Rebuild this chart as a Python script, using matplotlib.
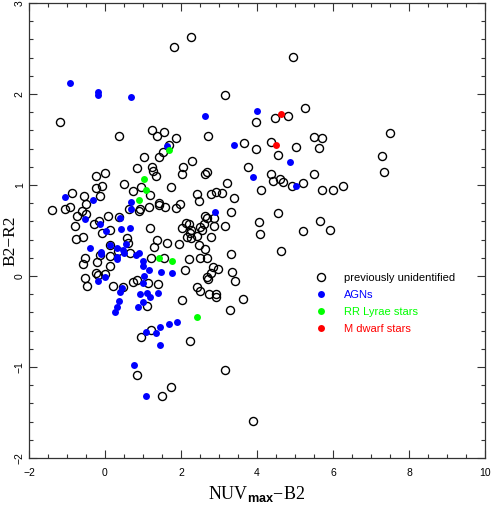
import matplotlib
matplotlib.use("Agg")
import matplotlib.pyplot as plt
from matplotlib.ticker import MultipleLocator

# previously unidentified (open circles)
unid_x = [1.82, 2.26, 4.95, 3.16, 5.26, 4.47, 4.82, 3.97, 3.66, 3.97, 4.37, 5.03, 5.50, 5.71, 5.63,
          7.50, 7.29, 7.34, 4.55, 3.76, 4.37, 4.42, 4.61, 4.68, 4.92, 5.21, 5.50, 4.10, 5.71, 6.00,
          6.26, 4.55, 4.05, 4.08, 5.66, 5.21, 5.92, 4.63, 3.63, 3.89, -1.18, 0.37, 1.24, 1.37, 1.55,
          1.87, 1.68, 1.53, 1.42, 1.03, 1.24, 1.26, 1.34, 0.84, 2.05, 2.03, 2.29, 2.71, 2.63, 2.68,
          3.21, 0.00, -0.24, 0.50, -0.24, -0.08, -0.87, -0.55, -0.13, -1.39, -1.05, -0.92, -0.50, -0.61, -0.74,
          -0.50, -0.79, -0.16, -0.29, -0.08, 0.08, 0.13, 0.37, 0.58, -0.76, -0.58, 0.13, 0.63, 0.74, 0.92,
          0.89, 1.16, 1.18, 0.95, 1.42, 1.42, 1.58, 1.74, 1.87, 1.97, 1.18, 1.37, 1.29, 1.63, 1.95,
          2.03, 2.13, 2.21, 2.26, 2.16, 2.26, 2.50, 2.55, 2.61, 2.63, 2.68, 2.87, 2.87, 2.79, 3.16,
          3.32, 3.39, 2.42, 2.47, 2.79, 2.92, 3.08, 2.42, 2.47, -0.53, -0.58, -0.21, -0.13, 0.13, 0.13,
          -0.24, -0.18, 0.00, -0.53, -0.47, 0.61, 0.66, 0.74, 0.84, 1.39, 1.55, 2.10, 2.21, 2.50, 2.63,
          2.68, 2.84, 2.97, 2.79, 2.68, 2.71, 3.32, 3.34, 3.42, 2.42, 2.50, 2.74, 2.92, 2.92, 2.03,
          3.29, 0.47, 0.21, 1.10, 1.21, 0.95, 2.24, 0.84, 1.74, 1.50, 3.16, 1.21, 0.34, 2.24, 1.13]
unid_y = [2.52, 2.63, 2.41, 1.99, 1.85, 1.74, 1.76, 1.69, 1.46, 1.40, 1.47, 1.42, 1.53, 1.52, 1.41,
          1.57, 1.32, 1.14, 1.33, 1.20, 1.12, 1.04, 1.07, 1.03, 0.99, 1.02, 1.12, 0.95, 0.95, 0.95,
          0.99, 0.69, 0.59, 0.46, 0.60, 0.49, 0.51, 0.27, -0.25, -1.59, 1.69, 1.54, 1.60, 1.54, 1.58,
          1.52, 1.44, 1.36, 1.31, 1.31, 1.20, 1.15, 1.10, 1.19, 1.20, 1.12, 1.26, 1.54, 1.12, 1.14,
          1.02, 1.13, 1.10, 1.01, 0.97, 0.99, 0.91, 0.88, 0.88, 0.73, 0.74, 0.76, 0.79, 0.71, 0.66,
          0.68, 0.55, 0.60, 0.57, 0.47, 0.66, 0.51, 0.65, 0.42, 0.41, 0.43, 0.34, 0.74, 0.93, 0.74,
          0.71, 0.76, 0.89, 0.98, 0.80, 0.78, 0.76, 0.98, 0.75, 0.79, 0.53, 0.40, 0.32, 0.36, 0.35,
          0.53, 0.58, 0.57, 0.51, 0.43, 0.42, 0.54, 0.51, 0.57, 0.66, 0.64, 0.64, 0.55, 0.43, 0.55,
          0.70, 0.86, 0.90, 0.82, 0.90, 0.92, 0.91, 0.44, 0.34, 0.20, 0.13, 0.15, 0.23, 0.22, 0.11,
          0.03, 0.01, 0.02, -0.02, -0.11, 0.36, 0.25, -0.07, -0.04, -0.09, 0.20, 0.07, 0.19, 0.20, 0.30,
          0.20, 0.10, 0.08, 0.03, -0.01, -0.03, 0.24, 0.04, -0.05, -0.12, -0.16, -0.20, -0.20, -0.23, -0.26,
          -0.37, -0.12, -0.11, -0.33, -0.59, -0.67, -0.71, -1.09, -1.22, -1.32, -1.03, 0.20, 0.27, 0.47, -0.08]

# AGNs (filled blue)
agn_x = [-0.92, -0.18, -0.18, 0.68, 4.00, 2.63, 1.63, 3.39, 4.87, 3.89, 5.03, -1.05, -0.32, -0.53,
         -0.13, 0.03, 0.39, 0.42, 0.66, 0.55, -0.39, 0.13, 0.31, 0.68, 0.68, 2.89, -0.11, -0.11, -0.18,
         0.00, 0.32, 0.32, 0.47, 0.50, 0.82, 0.89, 1.00, 1.00, 1.03, 1.00, 1.10, 0.92, 1.18, 1.00,
         0.87, 1.16, 1.39, 1.47, 1.76, 0.39, 0.45, 0.37, 0.32, 0.26, 1.89, 1.68, 1.45, 1.34, 1.08,
         1.45, 0.76, 1.08]
agn_y = [2.12, 2.02, 1.99, 1.97, 1.81, 1.76, 1.43, 1.44, 1.25, 1.09, 0.99, 0.87, 0.84, 0.63,
         0.57, 0.49, 0.64, 0.52, 0.53, 0.35, 0.31, 0.34, 0.31, 0.74, 0.81, 0.70, 0.26, 0.24, -0.05,
         -0.01, 0.21, 0.19, 0.29, 0.25, 0.23, 0.25, 0.16, 0.11, 0.00, -0.08, -0.19, -0.20, -0.23, -0.29,
         -0.34, 0.07, -0.19, 0.04, 0.03, -0.18, -0.13, -0.27, -0.34, -0.40, -0.51, -0.53, -0.56, -0.63, -0.62,
         -0.76, -0.98, -1.32]

# RR Lyrae stars (filled green)
rrl_x = [1.68, 1.03, 1.08, 0.89, 1.42, 1.76, 2.42]
rrl_y = [1.38, 1.07, 0.95, 0.84, 0.20, 0.16, -0.45]

# M dwarf stars (filled red)
mdw_x = [4.63, 4.50]
mdw_y = [1.78, 1.44]

labels = ["previously unidentified", "AGNs", "RR Lyrae stars", "M dwarf stars"]
colors = ["black", "#0000ff", "#00ff00", "#ff0000"]

plt.rcParams['font.family'] = ['Liberation Sans', 'DejaVu Sans']
plt.rcParams['mathtext.fontset'] = 'custom'
plt.rcParams['mathtext.rm'] = 'Liberation Serif'
plt.rcParams['mathtext.bf'] = 'Liberation Sans:bold'

fig = plt.figure(figsize=(4.91, 5.05), dpi=100)
ax = fig.add_axes([29/491, 47/505, 456/491, 455/505])

ax.plot(unid_x, unid_y, linestyle='none', marker='o', ms=5.8, mfc='none', mec=colors[0], mew=1.0,
        label=labels[0])
ax.plot(agn_x, agn_y, linestyle='none', marker='o', ms=5.0, mfc=colors[1], mec=colors[1], mew=0,
        label=labels[1])
ax.plot(rrl_x, rrl_y, linestyle='none', marker='o', ms=5.0, mfc=colors[2], mec=colors[2], mew=0,
        label=labels[2])
ax.plot(mdw_x, mdw_y, linestyle='none', marker='o', ms=5.0, mfc=colors[3], mec=colors[3], mew=0,
        label=labels[3])

ax.set_xlim(-2, 10)
ax.set_ylim(-2, 3)
ax.xaxis.set_major_locator(MultipleLocator(2))
ax.xaxis.set_minor_locator(MultipleLocator(0.5))
ax.yaxis.set_major_locator(MultipleLocator(1))
ax.yaxis.set_minor_locator(MultipleLocator(0.2))
ax.tick_params(which='both', direction='in', top=True, right=True, color='#333333', width=0.8)
ax.tick_params(which='major', length=6)
ax.tick_params(which='minor', length=3.2)
ax.tick_params(axis='x', which='major', labelsize=7.5, pad=7.5)
ax.tick_params(axis='y', which='major', labelsize=7.5, pad=3, labelrotation=90)
for lab in ax.get_yticklabels():
    lab.set_va('center')
for s in ax.spines.values():
    s.set_color('#333333')
    s.set_linewidth(0.9)

ax.set_xlabel(r'$\mathrm{NUV}_{\mathbf{max}}{-}\mathrm{B2}$', fontsize=13)
ax.xaxis.set_label_coords(0.5, -0.058)
ax.set_ylabel('B2\u2212R2', fontsize=12.5, family='Liberation Serif')
ax.yaxis.set_label_coords(-0.024, 0.478)

leg = ax.legend(loc='center left', bbox_to_anchor=(0.628, 0.34), frameon=False, fontsize=8,
                handlelength=1.0, handletextpad=1.6, labelspacing=0.62, borderpad=0,
                borderaxespad=0, labelcolor=colors)

fig.savefig('out.png', dpi=100)
